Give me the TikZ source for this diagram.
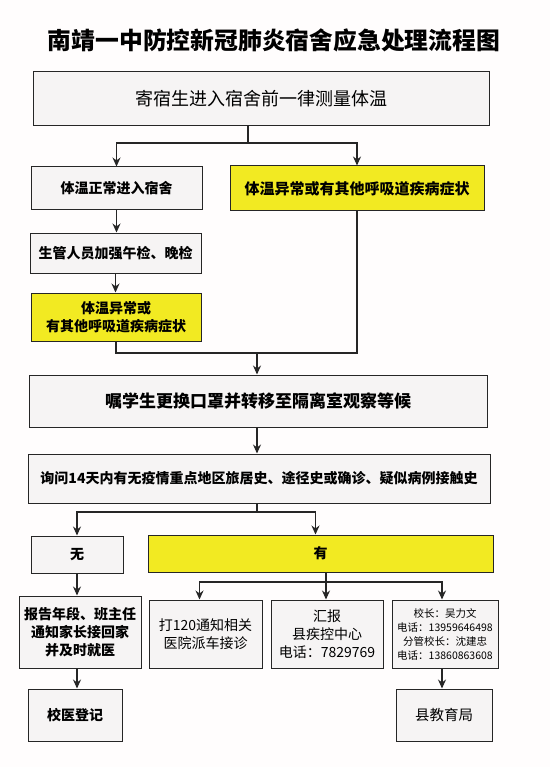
\documentclass[tikz,border=0pt]{standalone}
\usepackage{fontspec}
\setmainfont{Noto Sans CJK SC}
\usetikzlibrary{arrows.meta,positioning,calc}
\definecolor{boxgray}{HTML}{F6F4F4}
\definecolor{hlyellow}{HTML}{F2EA22}
\definecolor{edge}{HTML}{262626}
\definecolor{paper}{HTML}{FFFDFD}

\begin{document}
\begin{tikzpicture}[x=1pt, y=-1pt,
  box/.style={draw=edge, line width=1pt, fill=boxgray, inner sep=0pt, align=center, font=\bfseries\fontsize{14}{18}\selectfont},
  ybox/.style={box, fill=hlyellow},
  arr/.style={-{Stealth[length=9pt, width=8pt]}, line width=1.2pt, draw=edge},
  ln/.style={line width=1.2pt, draw=edge}]
  \fill[paper] (0,0) rectangle (550,767);
  \useasboundingbox (0,0) rectangle (550,767);

  % Title
  \node[font=\bfseries\fontsize{23.8}{28}\selectfont] (title) at (274,40) {南靖一中防控新冠肺炎宿舍应急处理流程图};

  % Boxes, top part
  \node[box, minimum width=456, minimum height=54, font=\fontsize{18}{22}\selectfont] (start) at (261,99) {寄宿生进入宿舍前一律测量体温};
  \node[box, minimum width=171, minimum height=43] (normal) at (116.5,188.5) {体温正常进入宿舍};
  \node[ybox, minimum width=254, minimum height=45, font=\bfseries\fontsize{15}{18}\selectfont] (abnormal) at (357,188.5) {体温异常或有其他呼吸道疾病症状};
  \node[box, minimum width=171, minimum height=40] (check) at (115.5,253) {生管人员加强午检、晚检};
  \node[ybox, minimum width=170, minimum height=48] (abnagain) at (116,317) {体温异常或\\有其他呼吸道疾病症状};
  \node[box, minimum width=458, minimum height=52, font=\bfseries\fontsize{17}{20}\selectfont] (isolate) at (258,401) {嘱学生更换口罩并转移至隔离室观察等候};
  \node[box, minimum width=462, minimum height=49] (ask) at (259,478.5) {询问14天内有无疫情重点地区旅居史、途径史或确诊、疑似病例接触史};

  % Boxes, bottom part
  \node[box, minimum width=92, minimum height=37] (none) at (77,554.5) {无};
  \node[ybox, minimum width=345, minimum height=37] (yes) at (320.5,553.5) {有};
  \node[box, minimum width=122, minimum height=72] (report) at (80,632) {报告年段、班主任\\通知家长接回家\\并及时就医};
  \node[box, minimum width=113, minimum height=68, font=\fontsize{14}{18}\selectfont] (call) at (205.5,634) {打120通知相关\\医院派车接诊};
  \node[box, minimum width=112, minimum height=68, font=\fontsize{14}{18}\selectfont] (cdc) at (327,634) {汇报\\县疾控中心\\电话：7829769};
  \node[box, minimum width=106, minimum height=68, font=\fontsize{10.5}{14}\selectfont] (head) at (445,634) {校长：吴力文\\电话：13959646498\\分管校长：沈建忠\\电话：13860863608};
  \node[box, minimum width=94, minimum height=52] (doctor) at (75,715) {校医登记};
  \node[box, minimum width=96, minimum height=52, font=\fontsize{14.5}{18}\selectfont] (bureau) at (444,715) {县教育局};

  % Connectors
  \coordinate (s1) at (248,143);
  \coordinate (m1) at (257,353);
  \coordinate (s3) at (257,512);
  \coordinate (s4) at (326,582);

  \draw[ln] (start.south -| s1) -- (s1);
  \draw[arr] (s1) -| (normal.north);
  \draw[arr] (s1) -| (abnormal.north);
  \draw[arr] (normal.south) -- (normal.south |- check.north);
  \draw[arr] (check.south) -- (check.south |- abnagain.north);
  \draw[ln] (abnagain.south) |- (abnormal.south |- m1) -- (abnormal.south);
  \draw[arr] (m1) -- (m1 |- isolate.north);
  \draw[arr] (isolate.south -| m1) -- (ask.north -| m1);

  \draw[ln] (ask.south -| s3) -- (s3);
  \draw[arr] (s3) -| (none.north);
  \draw[arr] (s3) -| ($(yes.north)+(-5,0)$);
  \draw[arr] (none.south) -- (none.south |- report.north);
  \draw[arr] (report.south -| none) -- (doctor.north -| none);

  \draw[ln] (yes.south -| s4) -- (s4);
  \draw[arr] (s4) -| ($(call.north)+(-6,0)$);
  \draw[arr] (s4) -- (s4 |- cdc.north);
  \draw[arr] (s4) -| ($(head.north)+(-3,0)$);
  \draw[arr] ($(head.south)+(-3,0)$) -- ($(bureau.north)+(-2,0)$);
\end{tikzpicture}
\end{document}
